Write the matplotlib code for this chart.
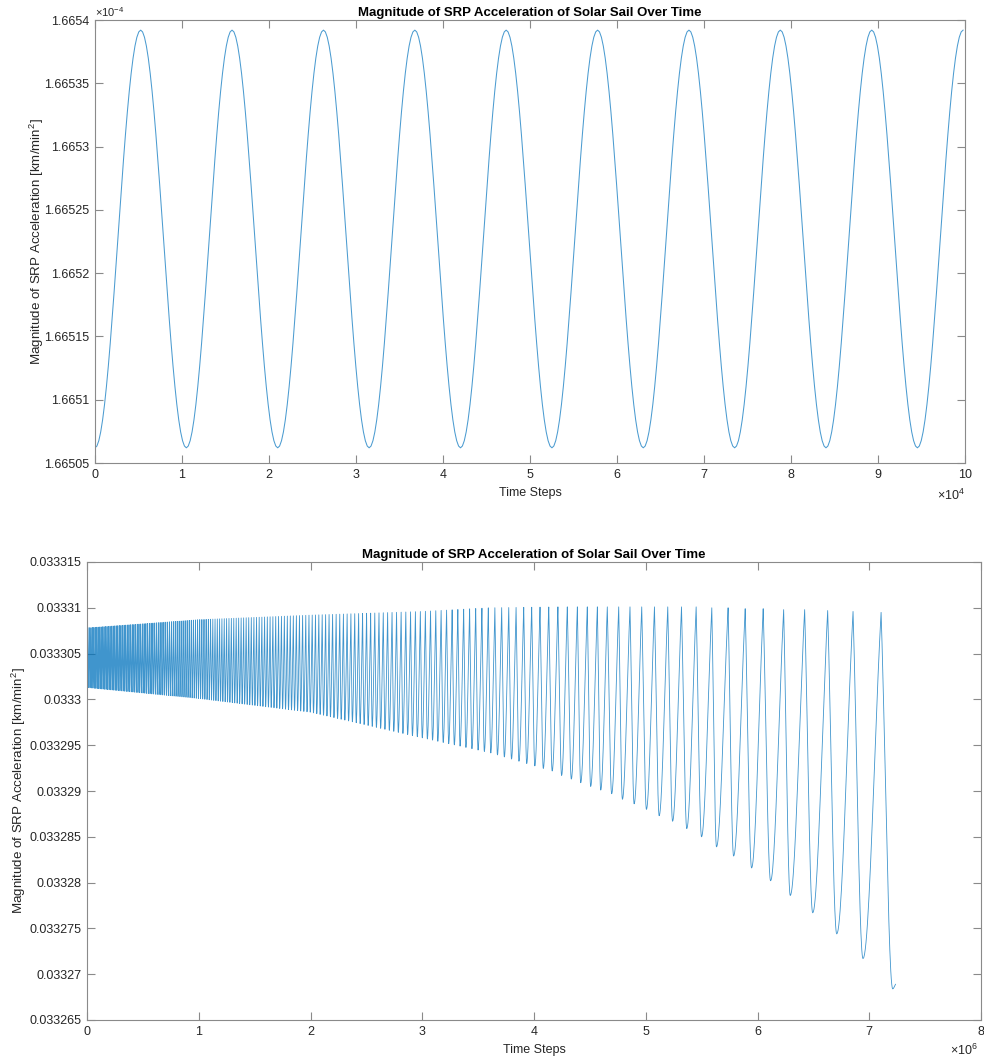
import numpy as np
import matplotlib
matplotlib.use("Agg")
import matplotlib.pyplot as plt
from matplotlib.ticker import FuncFormatter

plt.rcParams['font.family'] = ['Liberation Sans', 'DejaVu Sans']
plt.rcParams['mathtext.fontset'] = 'custom'
plt.rcParams['mathtext.rm'] = 'Liberation Sans'
plt.rcParams['mathtext.it'] = 'Liberation Sans:italic'
plt.rcParams['mathtext.bf'] = 'Liberation Sans:bold'

TITLE = "Magnitude of SRP Acceleration of Solar Sail Over Time"
XLABEL = "Time Steps"
YLABEL = "Magnitude of SRP Acceleration [km/min$^2$]"

# ---- short run: turning points of the oscillation (time step, km/min^2) ----
upper_trough_t = [0, 10500, 21000, 31510, 42010, 52520, 63020, 73520, 84020, 94530]
upper_trough_v = [1.665062e-4] * 10
upper_peak_t = [5250, 15750, 26260, 36760, 47260, 57770, 68270, 78770, 89280, 99780]
upper_peak_v = [1.665392e-4] * 10

# ---- long run, early part: local period and envelope at a few times ----
lower_knot_t = [0.0, 1.0e6, 2.0e6, 3.0e6, 3.6e6, 4.214e6]
lower_knot_period = [12500, 19000, 29000, 45000, 58000, 84000]
lower_knot_peak = [0.0333078, 0.0333087, 0.0333092, 0.0333096, 0.0333100, 0.0333101]
lower_knot_trough = [0.0333013, 0.0333001, 0.0332986, 0.0332958, 0.0332942, 0.0332920]
lower_trough_phase = 0.38

# ---- long run, late part: individual turning points ----
lower_peak_t = [4.214e6, 4.298e6, 4.388e6, 4.477e6, 4.567e6, 4.656e6, 4.758e6,
                4.859e6, 4.964e6, 5.078e6, 5.197e6, 5.320e6, 5.451e6, 5.591e6,
                5.737e6, 5.890e6, 6.051e6, 6.234e6, 6.422e6, 6.628e6, 6.855e6,
                7.106e6]
lower_peak_v = [0.0333101] * 13 + [0.0333100, 0.0333100, 0.0333099, 0.0333099,
                                   0.0333098, 0.0333098, 0.0333097, 0.0333096,
                                   0.0333095]
lower_trough_t = [4.247e6, 4.334e6, 4.418e6, 4.507e6, 4.597e6, 4.695e6, 4.791e6,
                  4.896e6, 5.006e6, 5.120e6, 5.240e6, 5.367e6, 5.499e6, 5.633e6,
                  5.786e6, 5.947e6, 6.117e6, 6.293e6, 6.494e6, 6.709e6, 6.944e6,
                  7.210e6]
lower_trough_v = [0.0332917, 0.0332913, 0.0332909, 0.0332905, 0.0332901, 0.0332897,
                  0.0332891, 0.0332886, 0.0332880, 0.0332873, 0.0332867, 0.0332859,
                  0.0332850, 0.0332839, 0.0332829, 0.0332816, 0.0332802, 0.0332786,
                  0.0332767, 0.0332744, 0.0332717, 0.0332684]
lower_end_t = 7.235e6
lower_end_v = 0.0332689

LINE_COLOR = '#0072BD'
AXIS_COLOR = '#8a8a8a'
TEXT_COLOR = '#262626'


def smooth_through(times, values, n=24, sharp=0.0):
    """Join consecutive turning points with arcs.

    sharp=0 gives plain half-cosine arcs; larger values make maxima pointed
    while minima stay rounded.
    """
    times = np.asarray(times, float)
    values = np.asarray(values, float)
    xs, ys = [times[:1]], [values[:1]]
    s = np.linspace(0, 1, n + 1)[1:]

    def rise(u):
        return sharp * (1 - np.cos(np.pi * u / 2)) + (1 - sharp) * (1 - np.cos(np.pi * u)) / 2

    for i in range(len(times) - 1):
        v0, v1 = values[i], values[i + 1]
        lo, hi = min(v0, v1), max(v0, v1)
        prof = rise(s) if v1 >= v0 else rise(1 - s)
        xs.append(times[i] + (times[i + 1] - times[i]) * s)
        ys.append(lo + (hi - lo) * prof)
    return np.concatenate(xs), np.concatenate(ys)


def interleave(a, b):
    out = []
    for i in range(max(len(a), len(b))):
        if i < len(a):
            out.append(a[i])
        if i < len(b):
            out.append(b[i])
    return out


# short run: trough / peak alternation
u_t = interleave(upper_trough_t, upper_peak_t)
u_v = interleave(upper_trough_v, upper_peak_v)
ux, uy = smooth_through(u_t, u_v)

# long run, early part: place cycles counting back from the first listed peak
grid = np.linspace(lower_knot_t[0], lower_knot_t[-1], 40001)
per = np.exp(np.interp(grid, lower_knot_t, np.log(lower_knot_period)))
cycles = np.concatenate([[0.0], np.cumsum(np.diff(grid) / per[:-1])])
total = cycles[-1]
k = np.arange(int(np.floor(total)), 0, -1)
early_peak_t = np.interp(total - k, cycles, grid)
early_trough_t = np.interp(total - k + lower_trough_phase, cycles, grid)
early_peak_v = np.interp(early_peak_t, lower_knot_t, lower_knot_peak)
early_trough_v = np.interp(early_trough_t, lower_knot_t, lower_knot_trough)

l_t = interleave(list(early_peak_t), list(early_trough_t)) + \
    interleave(lower_peak_t, lower_trough_t) + [lower_end_t]
l_v = interleave(list(early_peak_v), list(early_trough_v)) + \
    interleave(lower_peak_v, lower_trough_v) + [lower_end_v]
lx, ly = smooth_through(l_t, l_v, sharp=0.6)

W, H = 984, 1059
fig = plt.figure(figsize=(W / 100, H / 100), dpi=100)
fig.patch.set_facecolor('white')


def style(ax):
    for sp in ax.spines.values():
        sp.set_color(AXIS_COLOR)
        sp.set_linewidth(0.8)
    ax.tick_params(direction='in', length=6, width=0.8, color=AXIS_COLOR,
                   labelcolor=TEXT_COLOR, labelsize=9, top=True, right=True,
                   pad=4)
    ax.set_title(TITLE, fontsize=9.5, fontweight='bold', color='black', pad=3)


# upper panel
ax1 = fig.add_axes([95 / W, 1 - 463 / H, 870 / W, 443 / H])
ax1.plot(ux, uy, color=LINE_COLOR, lw=0.75, alpha=0.7)
ax1.set_xlim(0, 1e5)
ax1.set_ylim(1.66505e-4, 1.6654e-4)
ax1.set_xticks(np.arange(0, 11) * 1e4)
ax1.set_yticks(np.linspace(1.66505e-4, 1.6654e-4, 8))
ax1.xaxis.set_major_formatter(FuncFormatter(lambda v, p: '%g' % round(v / 1e4, 6)))
ax1.yaxis.set_major_formatter(FuncFormatter(lambda v, p: '%g' % round(v / 1e-4, 6)))
style(ax1)
ax1.set_xlabel(XLABEL, fontsize=9, color=TEXT_COLOR)
ax1.xaxis.label.set_va('center')
ax1.xaxis.set_label_coords(0.5, -(493 - 463) / 443)
ax1.set_ylabel(YLABEL, fontsize=9.6, color=TEXT_COLOR)
ax1.yaxis.label.set_va('center')
ax1.yaxis.set_label_coords((37 - 95) / 870, 0.5)
ax1.text(0, 1.003, r'$\times10^{-4}$', transform=ax1.transAxes, ha='left',
         va='bottom', fontsize=8, color=TEXT_COLOR)
ax1.text(1, -(495 - 463) / 443, r'$\times10^{4}$', transform=ax1.transAxes,
         ha='right', va='center', fontsize=9, color=TEXT_COLOR)

# lower panel
ax2 = fig.add_axes([87 / W, 1 - 1020 / H, 894 / W, 458 / H])
ax2.plot(lx, ly, color=LINE_COLOR, lw=0.6, alpha=0.75)
ax2.set_xlim(0, 8e6)
ax2.set_ylim(0.033265, 0.033315)
ax2.set_xticks(np.arange(0, 9) * 1e6)
ax2.set_yticks(np.linspace(0.033265, 0.033315, 11))
ax2.xaxis.set_major_formatter(FuncFormatter(lambda v, p: '%g' % round(v / 1e6, 6)))
ax2.yaxis.set_major_formatter(FuncFormatter(lambda v, p: '%g' % round(v, 9)))
style(ax2)
ax2.set_xlabel(XLABEL, fontsize=9, color=TEXT_COLOR)
ax2.xaxis.label.set_va('center')
ax2.xaxis.set_label_coords(0.5, -(1050 - 1020) / 458)
ax2.set_ylabel(YLABEL, fontsize=9.6, color=TEXT_COLOR)
ax2.yaxis.label.set_va('center')
ax2.yaxis.set_label_coords((19 - 87) / 894, 0.5)
fig.text(950 / W, 1 - 1050 / H, r'$\times10^{6}$', ha='left', va='center',
         fontsize=9, color=TEXT_COLOR)

fig.savefig('out.png', dpi=100, facecolor='white')
